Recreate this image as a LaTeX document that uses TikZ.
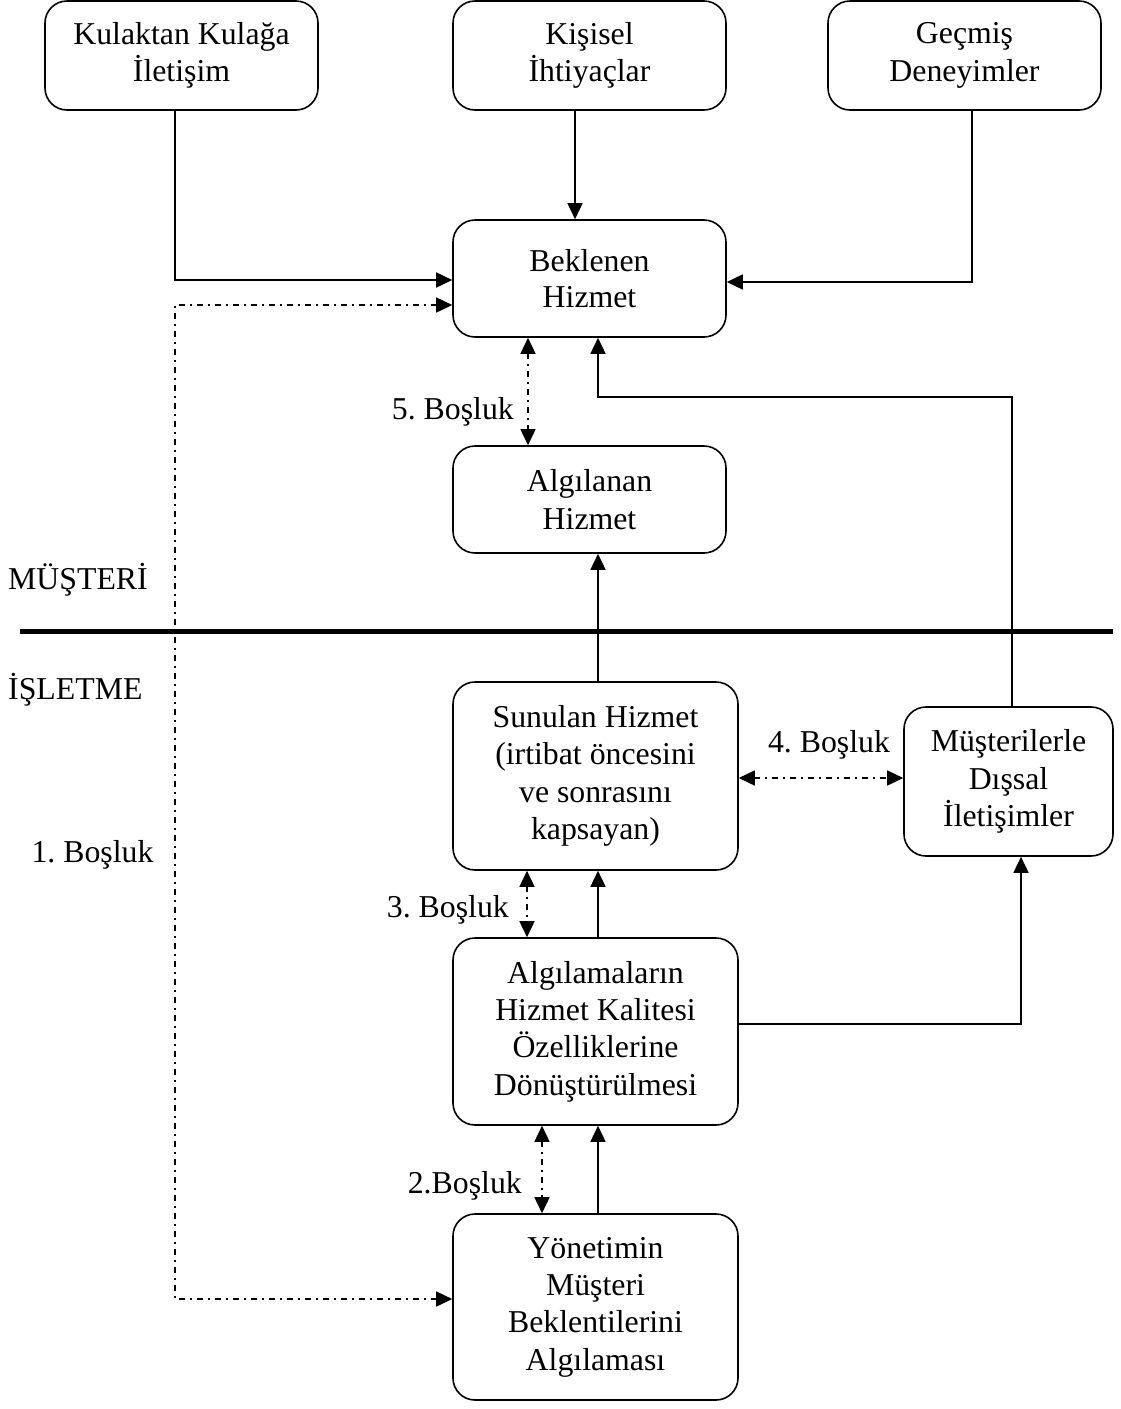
\documentclass[tikz,border=0pt]{standalone}
\usepackage{fontspec}
\setmainfont{Liberation Serif}
\usetikzlibrary{arrows.meta}
\frenchspacing
\begin{document}
\begin{tikzpicture}[x=1pt,y=-1pt,
  box/.style={draw,line width=1.6pt,rounded corners=22pt,align=center,inner sep=0pt,
    font=\fontsize{31.8}{37.3}\selectfont},
  lab/.style={inner sep=0pt,font=\fontsize{31.8}{37.3}\selectfont},
  conn/.style={line width=1.6pt},
  arr/.style={conn,-{Triangle[length=16pt,width=15pt]}},
  dd/.style={line width=1.6pt,dash pattern=on 6pt off 5pt on 2pt off 5pt},
  dboth/.style={dd,{Triangle[length=16pt,width=15pt]}-{Triangle[length=16pt,width=15pt]}}]
\useasboundingbox (0,0) rectangle (1121,1409);
% boxes
\node[box,minimum width=273pt,minimum height=109pt] (kul) at (181.5,55.5) {Kulaktan Kulağa\\İletişim};
\node[box,minimum width=273pt,minimum height=109pt] (kis) at (589.5,55.5) {Kişisel\\İhtiyaçlar};
\node[box,minimum width=273pt,minimum height=109pt] (gec) at (964.5,55.5) {Geçmiş\\Deneyimler};
\node[box,minimum width=273pt,minimum height=117pt] (bek) at (589.5,278.5) {Beklenen\\[-2pt]Hizmet};
\node[box,minimum width=273pt,minimum height=107pt] (alg) at (589.5,499.5) {Algılanan\\Hizmet};
\node[box,minimum width=285pt,minimum height=188pt] (sun) at (595.5,776) {Sunulan Hizmet\\(irtibat öncesini\\ve sonrasını\\kapsayan)};
\node[box,minimum width=209pt,minimum height=149pt] (mus) at (1008.5,781.5) {Müşterilerle\\Dışsal\\İletişimler};
\node[box,minimum width=285pt,minimum height=187pt] (algm) at (595.5,1031.5) {Algılamaların\\Hizmet Kalitesi\\Özelliklerine\\Dönüştürülmesi};
\node[box,minimum width=285pt,minimum height=186pt] (yon) at (595.5,1307) {Yönetimin\\Müşteri\\Beklentilerini\\Algılaması};
% labels
\node[lab,anchor=west] (lmus) at (8,580) {MÜŞTERİ};
\node[lab,anchor=west] (lisl) at (8,690) {İŞLETME};
\node[lab] (l1) at (92.5,855) {1. Boşluk};
\node[lab,anchor=east] (l5) at (514,412) {5. Boşluk};
\node[lab] (l4) at (829,745) {4. Boşluk};
\node[lab,anchor=east] (l3) at (509,910) {3. Boşluk};
\node[lab,anchor=east] (l2) at (522,1186) {2.Boşluk};
% separator
\coordinate (sepL) at (20,631);
\coordinate (sepR) at (1113,631);
\draw[line width=5pt] (sepL) -- (sepR);
% guide coordinates
\coordinate (k1) at (175,280);
\coordinate (g1) at (972,282);
\coordinate (d1) at (175,305);
\coordinate (d2) at (175,1299);
\coordinate (x528) at (528,0);
\coordinate (x598) at (598,0);
\coordinate (x575) at (575,0);
\coordinate (m1) at (1012,397);
\coordinate (m2) at (598,397);
\coordinate (y778) at (0,778);
\coordinate (x527) at (527,0);
\coordinate (a1) at (1021,1024);
\coordinate (x542) at (542,0);
% connectors
\draw[arr] (kul.south -| k1) -- (k1) -- (bek.west |- k1);
\draw[arr] (kis.south -| x575) -- (bek.north -| x575);
\draw[arr] (gec.south -| g1) -- (g1) -- (bek.east |- g1);
\draw[dboth] (bek.west |- d1) -- (d1) -- (d2) -- (yon.west |- d2);
\draw[dboth] (bek.south -| x528) -- (alg.north -| x528);
\draw[arr] (mus.north -| m1) -- (m1) -- (m2) -- (bek.south -| m2);
\draw[arr] (sun.north -| x598) -- (alg.south -| x598);
\draw[dboth] (sun.east |- y778) -- (mus.west |- y778);
\draw[dboth] (sun.south -| x527) -- (algm.north -| x527);
\draw[arr] (algm.north -| x598) -- (sun.south -| x598);
\draw[arr] (algm.east |- a1) -- (a1) -- (mus.south -| a1);
\draw[dboth] (algm.south -| x542) -- (yon.north -| x542);
\draw[arr] (yon.north -| x598) -- (algm.south -| x598);
\end{tikzpicture}
\end{document}
